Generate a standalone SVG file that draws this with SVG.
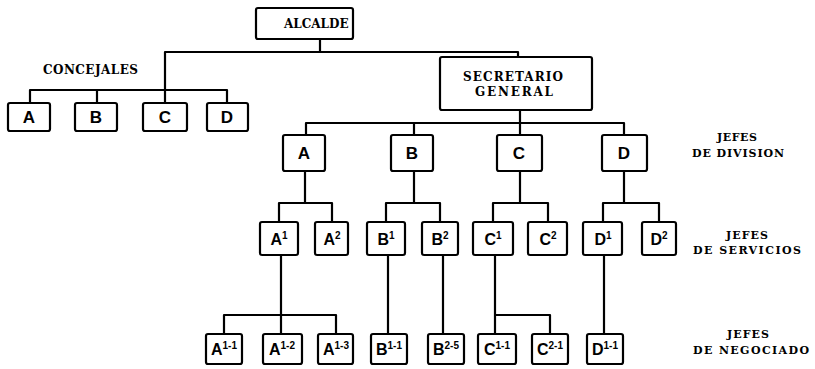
<svg xmlns="http://www.w3.org/2000/svg" width="815" height="369" viewBox="0 0 815 369">
<style>
  .box{fill:#fff;stroke:#000;stroke-width:2.2;}
  .ln{fill:none;stroke:#000;stroke-width:2.2;stroke-linejoin:round;}
  .hd{font-family:"DejaVu Serif","Liberation Serif",serif;font-weight:bold;font-size:12px;fill:#000;}
  .lb{font-family:"Liberation Sans","DejaVu Sans",sans-serif;font-weight:bold;font-size:17px;fill:#000;text-anchor:middle;}
  .sl{font-family:"Liberation Sans","DejaVu Sans",sans-serif;font-weight:bold;font-size:16px;fill:#000;text-anchor:middle;}
  .sup{font-size:10px;}
  .side{font-family:"DejaVu Serif","Liberation Serif",serif;font-weight:bold;font-size:11px;fill:#000;text-anchor:middle;}
</style>
<g id="connectors">
  <path class="ln" d="M320,39 V52 M165,103 V52 H518 V57"/>
  <path class="ln" d="M30,103 V90 H227 V103 M97,90 V103"/>
  <path class="ln" d="M520,110 V135 M306,135 V123 H624 V135 M414,123 V135"/>
  <path class="ln" d="M305,171 V203 M279,222 V203 H332 V222"/>
  <path class="ln" d="M414,171 V203 M386,222 V203 H440 V222"/>
  <path class="ln" d="M520,171 V203 M493,222 V203 H548 V222"/>
  <path class="ln" d="M624,171 V203 M603,222 V203 H659 V222"/>
  <path class="ln" d="M281,255 V334 M224,334 V315 H336 V334"/>
  <path class="ln" d="M388,255 V334 M443,255 V334"/>
  <path class="ln" d="M495,255 V334 M495,315 H550 V334"/>
  <path class="ln" d="M604,255 V334"/>
</g>
<g id="alcalde"><rect class="box" x="256" y="8" width="97" height="31" rx="2"/><text class="hd" x="284" y="28">ALCALDE</text></g>
<g id="concejales-label"><text class="hd" x="43" y="74" textLength="95">CONCEJALES</text></g>
<g id="concejal-a"><rect class="box" x="8" y="103" width="42" height="28" rx="2"/><text class="lb" x="29" y="123">A</text></g>
<g id="concejal-b"><rect class="box" x="75" y="103" width="42" height="28" rx="2"/><text class="lb" x="96" y="123">B</text></g>
<g id="concejal-c"><rect class="box" x="143" y="103" width="44" height="28" rx="2"/><text class="lb" x="165" y="123">C</text></g>
<g id="concejal-d"><rect class="box" x="207" y="103" width="41" height="28" rx="2"/><text class="lb" x="227" y="123">D</text></g>
<g id="secretario"><rect class="box" x="440" y="57" width="152" height="53" rx="2"/><text class="hd" x="463" y="81" textLength="100">SECRETARIO</text><text class="hd" x="475" y="96" textLength="78">GENERAL</text></g>
<g id="div-a"><rect class="box" x="283" y="135" width="42" height="36" rx="2"/><text class="lb" x="304" y="159">A</text></g>
<g id="div-b"><rect class="box" x="391" y="135" width="42" height="36" rx="2"/><text class="lb" x="412" y="159">B</text></g>
<g id="div-c"><rect class="box" x="497" y="135" width="45" height="36" rx="2"/><text class="lb" x="519" y="159">C</text></g>
<g id="div-d"><rect class="box" x="602" y="135" width="45" height="36" rx="2"/><text class="lb" x="624" y="159">D</text></g>
<g id="label-division"><text class="side" x="737" y="141" textLength="40">JEFES</text><text class="side" x="738" y="157" textLength="92">DE DIVISION</text></g>
<g id="serv-a1"><rect class="box" x="260" y="222" width="38" height="33" rx="2"/><text class="sl" x="279" y="245">A<tspan class="sup" dy="-6">1</tspan></text></g>
<g id="serv-a2"><rect class="box" x="315" y="222" width="33" height="33" rx="2"/><text class="sl" x="332" y="245">A<tspan class="sup" dy="-6">2</tspan></text></g>
<g id="serv-b1"><rect class="box" x="367" y="222" width="38" height="33" rx="2"/><text class="sl" x="386" y="245">B<tspan class="sup" dy="-6">1</tspan></text></g>
<g id="serv-b2"><rect class="box" x="422" y="222" width="36" height="33" rx="2"/><text class="sl" x="440" y="245">B<tspan class="sup" dy="-6">2</tspan></text></g>
<g id="serv-c1"><rect class="box" x="473" y="222" width="40" height="33" rx="2"/><text class="sl" x="493" y="245">C<tspan class="sup" dy="-6">1</tspan></text></g>
<g id="serv-c2"><rect class="box" x="528" y="222" width="39" height="33" rx="2"/><text class="sl" x="548" y="245">C<tspan class="sup" dy="-6">2</tspan></text></g>
<g id="serv-d1"><rect class="box" x="583" y="222" width="39" height="33" rx="2"/><text class="sl" x="603" y="245">D<tspan class="sup" dy="-6">1</tspan></text></g>
<g id="serv-d2"><rect class="box" x="642" y="222" width="34" height="33" rx="2"/><text class="sl" x="659" y="245">D<tspan class="sup" dy="-6">2</tspan></text></g>
<g id="label-servicios"><text class="side" x="747" y="239" textLength="42">JEFES</text><text class="side" x="747" y="254" textLength="108">DE SERVICIOS</text></g>
<g id="neg-a11"><rect class="box" x="206" y="334" width="36" height="30" rx="2"/><text class="sl" x="224" y="355">A<tspan class="sup" dy="-6">1-1</tspan></text></g>
<g id="neg-a12"><rect class="box" x="263" y="334" width="39" height="30" rx="2"/><text class="sl" x="282" y="355">A<tspan class="sup" dy="-6">1-2</tspan></text></g>
<g id="neg-a13"><rect class="box" x="318" y="334" width="35" height="30" rx="2"/><text class="sl" x="336" y="355">A<tspan class="sup" dy="-6">1-3</tspan></text></g>
<g id="neg-b11"><rect class="box" x="371" y="334" width="36" height="30" rx="2"/><text class="sl" x="389" y="355">B<tspan class="sup" dy="-6">1-1</tspan></text></g>
<g id="neg-b25"><rect class="box" x="428" y="334" width="36" height="30" rx="2"/><text class="sl" x="446" y="355">B<tspan class="sup" dy="-6">2-5</tspan></text></g>
<g id="neg-c11"><rect class="box" x="478" y="334" width="38" height="30" rx="2"/><text class="sl" x="497" y="355">C<tspan class="sup" dy="-6">1-1</tspan></text></g>
<g id="neg-c21"><rect class="box" x="532" y="334" width="36" height="30" rx="2"/><text class="sl" x="550" y="355">C<tspan class="sup" dy="-6">2-1</tspan></text></g>
<g id="neg-d11"><rect class="box" x="587" y="334" width="36" height="30" rx="2"/><text class="sl" x="605" y="355">D<tspan class="sup" dy="-6">1-1</tspan></text></g>
<g id="label-negociado"><text class="side" x="748" y="338" textLength="42">JEFES</text><text class="side" x="751" y="354" textLength="116">DE NEGOCIADO</text></g>
</svg>
